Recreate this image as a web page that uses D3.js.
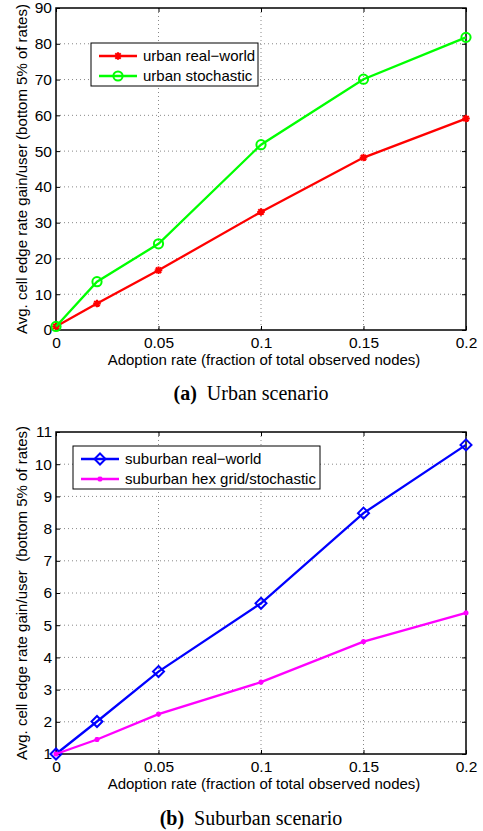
<!DOCTYPE html>
<html>
<head>
<meta charset="utf-8">
<script src="https://cdn.jsdelivr.net/npm/d3@7"></script>
<style>
  body { margin: 0; background: #fff; }
  svg { display: block; }
</style>
</head>
<body>
<div id="chart"></div>
<script>
// adoption rates (x values), shared by both panels
var adoption = [0, 0.02, 0.05, 0.1, 0.15, 0.2];

// panel (a) urban
var urbanRealWorld = [1.0, 7.4, 16.7, 33.0, 48.2, 59.1];
var urbanStochastic = [1.0, 13.5, 24.1, 51.8, 70.1, 81.8];

// panel (b) suburban
var suburbanRealWorld = [1.0, 2.01, 3.56, 5.68, 8.48, 10.6];
var suburbanHex = [1.0, 1.45, 2.24, 3.23, 4.49, 5.38];

var xTicks = [0, 0.05, 0.1, 0.15, 0.2];
var xTickLabels = ["0", "0.05", "0.1", "0.15", "0.2"];
var urbanYTicks = [0, 10, 20, 30, 40, 50, 60, 70, 80, 90];
var suburbanYTicks = [1, 2, 3, 4, 5, 6, 7, 8, 9, 10, 11];

var svgWidth = 483, svgHeight = 831;
var svg = d3.select("#chart").append("svg")
  .attr("width", svgWidth)
  .attr("height", svgHeight);

var font = "Liberation Sans, Arial, Helvetica, sans-serif";

// star marker (MATLAB '*')
function starPath(s) {
  var d = "";
  for (var i = 0; i < 4; i++) {
    var a = i * Math.PI / 4;
    var dx = Math.cos(a) * s, dy = Math.sin(a) * s;
    d += "M" + (-dx) + "," + (-dy) + "L" + dx + "," + dy;
  }
  return d;
}

function drawMarker(g, type, color, x, y) {
  if (type === "circle") {
    g.append("circle").attr("cx", x).attr("cy", y).attr("r", 4.6)
      .attr("fill", "none").attr("stroke", color).attr("stroke-width", 2);
  } else if (type === "diamond") {
    var s = 5.5;
    g.append("path")
      .attr("d", "M" + x + "," + (y - s) + "L" + (x + s) + "," + y + "L" + x + "," + (y + s) + "L" + (x - s) + "," + y + "Z")
      .attr("fill", "none").attr("stroke", color).attr("stroke-width", 2);
  } else if (type === "star") {
    g.append("path").attr("transform", "translate(" + x + "," + y + ")")
      .attr("d", starPath(3.8)).attr("stroke", color).attr("stroke-width", 2);
  } else if (type === "smallstar") {
    g.append("path").attr("transform", "translate(" + x + "," + y + ")")
      .attr("d", starPath(2.6)).attr("stroke", color).attr("stroke-width", 1.6);
  }
}

function panel(opts) {
  var left = 56, right = 466;
  var x = d3.scaleLinear().domain([0, 0.2]).range([left, right]);
  var y = d3.scaleLinear().domain(opts.yDomain).range([opts.bottom, opts.top]);
  var g = svg.append("g");

  // grid
  g.selectAll(".gx").data(xTicks.slice(1, -1)).enter().append("line")
    .attr("x1", function(d) { return x(d); }).attr("x2", function(d) { return x(d); })
    .attr("y1", opts.top).attr("y2", opts.bottom)
    .attr("stroke", "#888").attr("stroke-width", 1).attr("stroke-dasharray", "1,3");
  g.selectAll(".gy").data(opts.yTicks.slice(1, -1)).enter().append("line")
    .attr("x1", left).attr("x2", right)
    .attr("y1", function(d) { return y(d); }).attr("y2", function(d) { return y(d); })
    .attr("stroke", "#888").attr("stroke-width", 1).attr("stroke-dasharray", "1,3");

  // axes with inward ticks
  var ax = g.append("g").attr("transform", "translate(0," + opts.bottom + ")")
    .call(d3.axisBottom(x).tickValues(xTicks).tickSizeInner(-4).tickSizeOuter(0)
      .tickFormat(function(d, i) { return xTickLabels[i]; }));
  ax.selectAll("text").attr("dy", "1.05em").attr("y", 2);
  var axTop = g.append("g").attr("transform", "translate(0," + opts.top + ")")
    .call(d3.axisTop(x).tickValues(xTicks).tickSizeInner(-4).tickSizeOuter(0).tickFormat(""));
  var ay = g.append("g").attr("transform", "translate(" + left + ",0)")
    .call(d3.axisLeft(y).tickValues(opts.yTicks).tickSizeInner(-4).tickSizeOuter(0));
  ay.selectAll("text").attr("x", -4);
  var ayR = g.append("g").attr("transform", "translate(" + right + ",0)")
    .call(d3.axisRight(y).tickValues(opts.yTicks).tickSizeInner(-4).tickSizeOuter(0).tickFormat(""));
  [ax, axTop, ay, ayR].forEach(function(a) {
    a.select(".domain").remove();
    a.selectAll("line").attr("stroke", "#000");
    a.selectAll("text").attr("font-family", font).attr("font-size", 15.5).attr("fill", "#000");
  });
  g.append("rect").attr("x", left).attr("y", opts.top)
    .attr("width", right - left).attr("height", opts.bottom - opts.top)
    .attr("fill", "none").attr("stroke", "#000").attr("stroke-width", 1.5);

  // series
  var line = d3.line()
    .x(function(d) { return x(d[0]); })
    .y(function(d) { return y(d[1]); });
  opts.series.forEach(function(s) {
    var pts = adoption.map(function(a, i) { return [a, s.values[i]]; });
    g.append("path").datum(pts).attr("d", line)
      .attr("fill", "none").attr("stroke", s.color).attr("stroke-width", 2.3);
    pts.forEach(function(p) { drawMarker(g, s.marker, s.color, x(p[0]), y(p[1])); });
  });

  // legend
  var L = opts.legend;
  g.append("rect").attr("x", L.x).attr("y", L.y).attr("width", L.w).attr("height", L.h)
    .attr("fill", "#fff").attr("stroke", "#000").attr("stroke-width", 1);
  opts.series.forEach(function(s, i) {
    var yy = L.y + 13 + i * 20;
    g.append("line").attr("x1", L.x + 8).attr("x2", L.x + 46).attr("y1", yy).attr("y2", yy)
      .attr("stroke", s.color).attr("stroke-width", 2.3);
    drawMarker(g, s.marker, s.color, L.x + 27, yy);
    g.append("text").attr("x", L.x + 52).attr("y", yy).attr("dy", "0.35em")
      .attr("font-family", font).attr("font-size", 15).text(s.name);
  });

  // axis labels
  g.append("text").attr("x", (left + right) / 2 + 3).attr("y", opts.bottom + 35)
    .attr("text-anchor", "middle").attr("font-family", font).attr("font-size", 15)
    .text("Adoption rate (fraction of total observed nodes)");
  g.append("text")
    .attr("transform", "translate(27," + ((opts.top + opts.bottom) / 2) + ") rotate(-90)")
    .attr("text-anchor", "middle").attr("font-family", font).attr("font-size", 15)
    .attr("xml:space", "preserve")
    .text(opts.yLabel);

  // caption
  var cap = g.append("text").attr("x", 251).attr("y", opts.caption.y)
    .attr("text-anchor", "middle").attr("font-family", "Liberation Serif, Times New Roman, serif")
    .attr("font-size", 20);
  cap.append("tspan").attr("font-weight", "bold").text(opts.caption.label);
  cap.append("tspan").text("\u00a0 " + opts.caption.text);
}

panel({
  top: 8, bottom: 330, yDomain: [0, 90], yTicks: urbanYTicks,
  yLabel: "Avg. cell edge rate gain/user (bottom 5% of rates)",
  series: [
    { name: "urban real\u2212world", values: urbanRealWorld, color: "#ff0000", marker: "star" },
    { name: "urban stochastic", values: urbanStochastic, color: "#00ff00", marker: "circle" }
  ],
  legend: { x: 91, y: 43, w: 167, h: 43 },
  caption: { y: 400, label: "(a)", text: "Urban scenario" }
});

panel({
  top: 432, bottom: 754, yDomain: [1, 11], yTicks: suburbanYTicks,
  yLabel: "Avg. cell edge rate gain/user  (bottom 5% of rates)",
  series: [
    { name: "suburban real\u2212world", values: suburbanRealWorld, color: "#0000ff", marker: "diamond" },
    { name: "suburban hex grid/stochastic", values: suburbanHex, color: "#ff00ff", marker: "smallstar" }
  ],
  legend: { x: 73, y: 446, w: 247, h: 43 },
  caption: { y: 825, label: "(b)", text: "Suburban scenario" }
});
</script>
</body>
</html>
